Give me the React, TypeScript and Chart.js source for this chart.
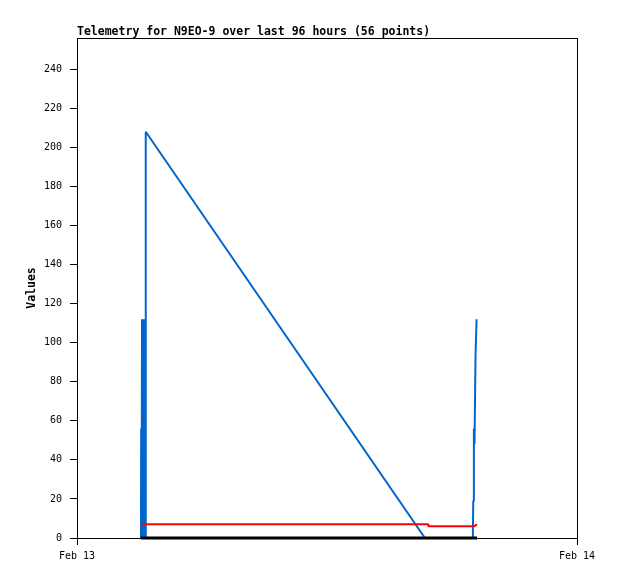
import React, { useEffect, useRef } from "react";
import { Chart, registerables } from "chart.js";

Chart.register(...registerables);

const titleText = "Telemetry for N9EO-9 over last 96 hours (56 points)";
const yAxisLabel = "Values";

// hours after Feb 13 00:00
const blueHours = [3.07, 3.08, 3.09, 3.1, 3.11, 3.12, 3.14, 3.16, 3.18, 3.2, 3.22, 3.24, 3.26, 3.28, 3.29, 3.31, 16.7, 19.0, 19.02, 19.05, 19.08, 19.13, 19.18];
const blueValues = [0, 56, 0, 56, 0, 112, 0, 112, 0, 112, 0, 112, 0, 112, 0, 208, 0, 0, 19, 56, 48, 94, 112];

const redHours = [3.07, 16.85, 16.87, 19.06, 19.2];
const redValues = [7, 7, 6, 6, 7];

const blackHours = [3.07, 19.2];
const blackValues = [0, 0];

const yTicks = [0, 20, 40, 60, 80, 100, 120, 140, 160, 180, 200, 220, 240];
const yMax = 256;
const xTickValues = [0, 24];
const xTickLabels = ["Feb 13", "Feb 14"];

const FONT = '"DejaVu Sans Mono", "Liberation Mono", monospace';

function pts(h: number[], v: number[]) {
  return h.map((x, i) => ({ x, y: v[i] }));
}

export default function App() {
  const ref = useRef<HTMLCanvasElement | null>(null);
  useEffect(() => {
    if (!ref.current) return;
    const framePlugin = {
      id: "frame",
      beforeDatasetsDraw(chart: any) {
        const { ctx, chartArea: a } = chart;
        ctx.save();
        ctx.strokeStyle = "#000";
        ctx.lineWidth = 1;
        ctx.strokeRect(Math.round(a.left) + 0.5, Math.round(a.top) + 0.5, Math.round(a.right - a.left), Math.round(a.bottom - a.top));
        ctx.restore();
      },
      afterDraw(chart: any) {
        const { ctx, chartArea: a } = chart;
        ctx.save();
        ctx.fillStyle = "#000";
        ctx.font = "bold 11.5px " + FONT;
        ctx.textBaseline = "alphabetic";
        ctx.textAlign = "left";
        ctx.fillText(titleText, a.left, 35);
        ctx.restore();
      },
    };
    const common = { pointRadius: 0, tension: 0, fill: false, borderJoinStyle: "bevel" };
    const chart = new Chart(ref.current, {
      type: "line",
      data: {
        datasets: [
          { ...common, data: pts(blackHours, blackValues), borderColor: "#000000", borderWidth: 3, clip: false } as any,
          { ...common, data: pts(redHours, redValues), borderColor: "#ff0000", borderWidth: 2, clip: false } as any,
          { ...common, data: pts(blueHours, blueValues), borderColor: "#0066cc", borderWidth: 2 } as any,
        ],
      },
      options: {
        responsive: false,
        animation: false,
        layout: { padding: { top: 38, right: 41, left: 0, bottom: 0 } },
        plugins: { legend: { display: false }, tooltip: { enabled: false }, title: { display: false } },
        scales: {
          x: {
            type: "linear",
            min: 0,
            max: 24,
            afterBuildTicks: (s: any) => {
              s.ticks = xTickValues.map((v) => ({ value: v }));
            },
            afterFit: (s: any) => {
              s.height = 41;
            },
            ticks: {
              autoSkip: false,
              maxRotation: 0,
              color: "#000",
              padding: 5,
              font: { family: FONT, size: 10 },
              callback: (v: any) => {
                const i = xTickValues.indexOf(Number(v));
                return i >= 0 ? xTickLabels[i] : "";
              },
            },
            grid: { display: true, drawOnChartArea: false, drawTicks: true, tickLength: 7, color: "#000" },
            border: { display: false },
          },
          y: {
            type: "linear",
            min: 0,
            max: yMax,
            afterBuildTicks: (s: any) => {
              s.ticks = yTicks.map((v) => ({ value: v }));
            },
            afterFit: (s: any) => {
              s.width = 77;
            },
            ticks: {
              autoSkip: false,
              color: "#000",
              padding: 8,
              font: { family: FONT, size: 10 },
            },
            grid: { display: true, drawOnChartArea: false, drawTicks: true, tickLength: 7, color: "#000" },
            border: { display: false },
            title: {
              display: true,
              text: yAxisLabel,
              color: "#000",
              font: { family: FONT, size: 11.5, weight: "bold" },
              padding: { top: 25, bottom: 0 },
            },
          },
        },
      } as any,
      plugins: [framePlugin],
    });
    return () => chart.destroy();
  }, []);
  return (
    <div style={{ position: "absolute", left: 0, top: 0, width: 618, height: 579, background: "#fff" }}>
      <canvas ref={ref} width={618} height={579} style={{ display: "block", width: 618, height: 579 }} />
    </div>
  );
}
